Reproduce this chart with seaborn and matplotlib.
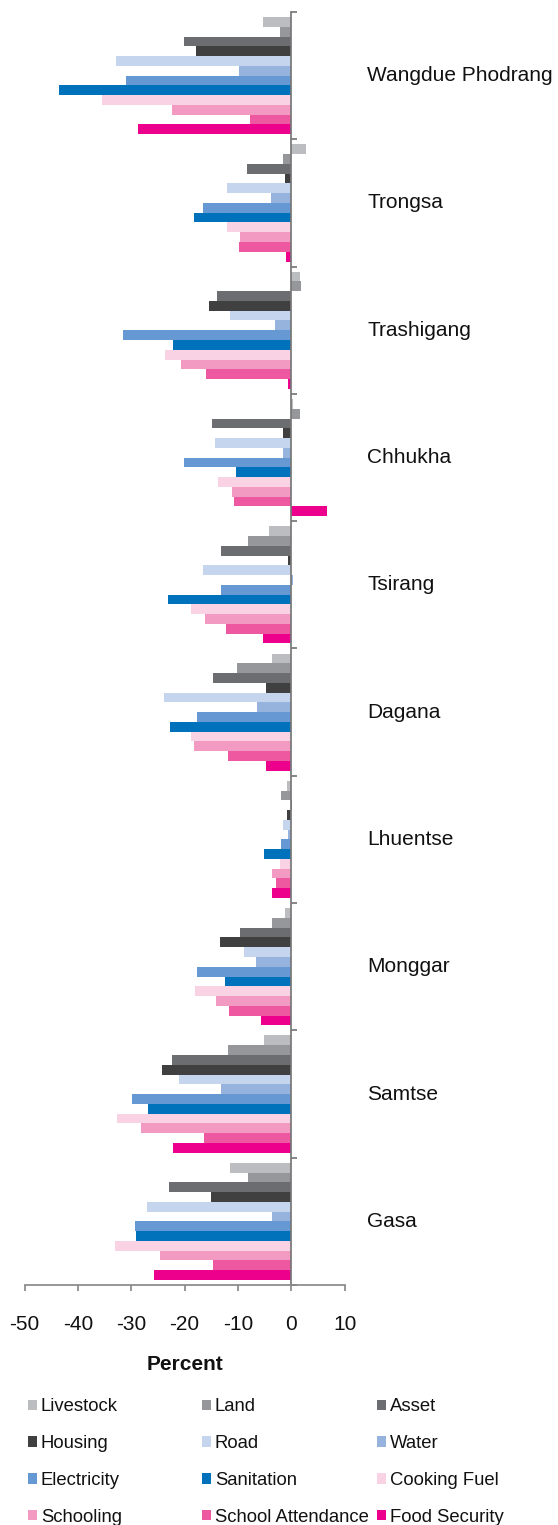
"""Change in deprivation by district, grouped horizontal bars."""
import matplotlib
import numpy as np
import pandas as pd
import seaborn as sns

matplotlib.use("Agg")
import matplotlib.pyplot as plt
from matplotlib.patches import Patch

DISTRICTS = ["Wangdue Phodrang", "Trongsa", "Trashigang", "Chhukha", "Tsirang",
             "Dagana", "Lhuentse", "Monggar", "Samtse", "Gasa"]

INDICATORS = ["Livestock", "Land", "Asset", "Housing", "Road", "Water",
              "Electricity", "Sanitation", "Cooking Fuel", "Schooling",
              "School Attendance", "Food Security"]

# values per indicator, in DISTRICTS order
livestock = [-5.3, 2.7, 1.6, 0.3, -4.2, -3.7, -0.9, -1.2, -5.1, -11.4]
land = [-2.1, -1.6, 1.8, 1.6, -8.1, -10.1, -2.0, -3.6, -11.8, -8.2]
asset = [-20.2, -8.4, -13.9, -14.8, -13.1, -14.6, 0.2, -9.6, -22.4, -22.9]
housing = [-17.9, -1.1, -15.5, -1.5, -0.7, -4.7, -0.8, -13.3, -24.2, -15.0]
road = [-32.8, -12.1, -11.4, -14.3, -16.5, -23.9, -1.5, -8.9, -21.1, -27.1]
water = [-9.9, -3.9, -3.1, -1.6, 0.4, -6.5, -0.7, -6.7, -13.1, -3.6]
electricity = [-31.0, -16.6, -31.6, -20.2, -13.2, -17.6, -1.9, -17.6, -29.9, -29.3]
sanitation = [-43.5, -18.3, -22.2, -10.3, -23.1, -22.7, -5.1, -12.4, -26.9, -29.2]
cooking_fuel = [-35.5, -12.0, -23.6, -13.7, -18.8, -18.8, -2.2, -18.0, -32.6, -33.1]
schooling = [-22.3, -9.6, -20.7, -11.1, -16.1, -18.2, -3.6, -14.2, -28.1, -24.6]
school_attendance = [-7.8, -9.8, -15.9, -10.7, -12.2, -11.9, -2.8, -11.6, -16.4, -14.7]
food_security = [-28.7, -1.0, -0.7, 6.7, -5.4, -4.8, -3.6, -5.7, -22.2, -25.7]

COLORS = ["#BCBDC0", "#96979A", "#6C6D70", "#404040", "#C5D5EE", "#95B3DD",
          "#6699D3", "#0071BB", "#F9D3E4", "#F39AC3", "#EE58A0", "#EC008C"]

XTICKS = [-50, -40, -30, -20, -10, 0, 10]

series = [livestock, land, asset, housing, road, water, electricity, sanitation,
          cooking_fuel, schooling, school_attendance, food_security]
df = pd.concat(
    [pd.DataFrame({"district": DISTRICTS, "indicator": name, "value": vals})
     for name, vals in zip(INDICATORS, series)],
    ignore_index=True,
)

sns.set_theme(style="white")
plt.rcParams["font.family"] = ["Liberation Sans", "DejaVu Sans"]
plt.rcParams["text.color"] = "#111111"
plt.rcParams["axes.labelcolor"] = "#111111"
plt.rcParams["xtick.labelcolor"] = "#111111"

W, H = 558, 1525
fig = plt.figure(figsize=(W / 100, H / 100), dpi=100)
ax = fig.add_axes([24.5 / W, 1 - 1285 / H, 320.2 / W, 1273 / H])

palette = dict(zip(INDICATORS, COLORS))
sns.barplot(data=df, x="value", y="district", hue="indicator", order=DISTRICTS,
            hue_order=INDICATORS, palette=palette, saturation=1, width=0.92,
            errorbar=None, legend=False, orient="h", linewidth=0, ax=ax)

ax.set_xlim(-50, 10)
ax.set_ylim(len(DISTRICTS) - 0.5, -0.5)
ax.set_xticks(XTICKS)
ax.set_xticklabels([str(t) for t in XTICKS], fontsize=15)
ax.set_yticks(np.arange(-0.5, len(DISTRICTS), 1.0))
ax.set_yticklabels([])
ax.set_ylabel("")
ax.set_xlabel("Percent", fontsize=15, fontweight="bold", labelpad=15)

for s in ["top", "right"]:
    ax.spines[s].set_visible(False)
ax.spines["left"].set_position(("data", 0))
ax.spines["left"].set_color("#777777")
ax.spines["bottom"].set_color("#8a8a8a")
ax.tick_params(axis="y", direction="in", length=4.5, color="#777777", left=True)
ax.tick_params(axis="x", direction="out", length=4, color="#8a8a8a", pad=17.5,
               bottom=True, labelcolor="#111111")

label_x = (367 - 24.5) / 320.2
for i, name in enumerate(DISTRICTS):
    ax.text(label_x, i, name, transform=ax.get_yaxis_transform(), fontsize=15,
            ha="left", va="center", clip_on=False)

# legend laid out row by row, one legend per column
col_x = [28 / W, 202 / W, 377 / W]
for c in range(3):
    idx = list(range(c, len(INDICATORS), 3))
    handles = [Patch(facecolor=COLORS[i], edgecolor="none") for i in idx]
    fig.legend(handles, [INDICATORS[i] for i in idx], loc="center left",
               bbox_to_anchor=(col_x[c], 1 - 1462 / H), frameon=False,
               fontsize=13.3, handlelength=0.5, handleheight=0.5,
               handletextpad=0.2, labelspacing=1.07, borderpad=0,
               borderaxespad=0, labelcolor="#111111")

fig.savefig("out.png", dpi=100)
